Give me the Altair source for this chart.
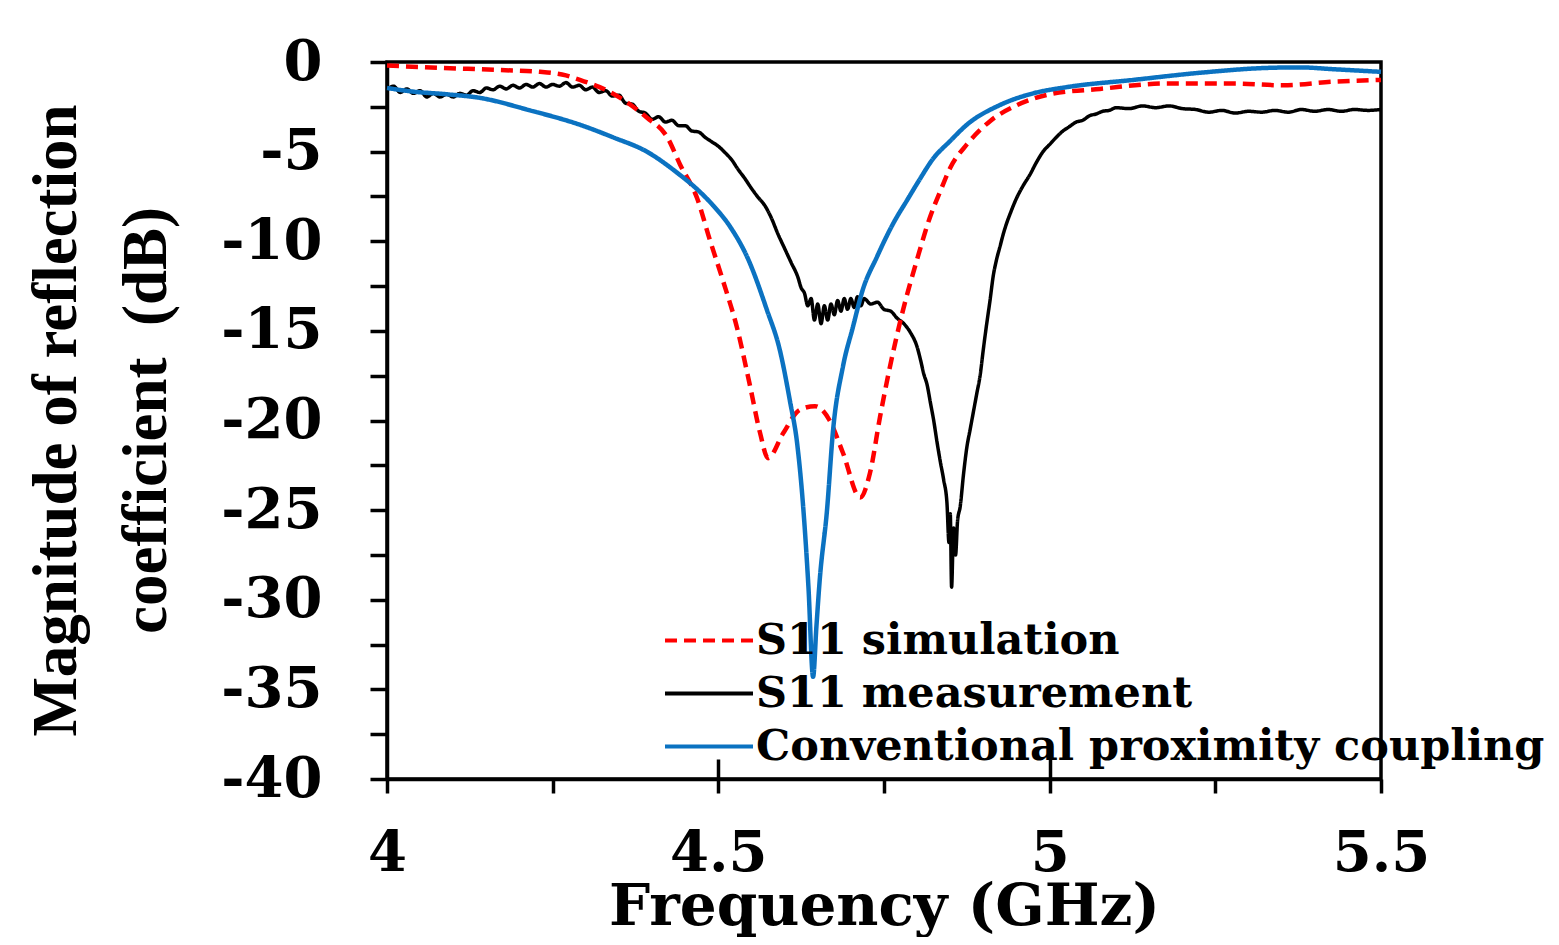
import altair as alt
import pandas as pd

series = ["S11 simulation", "S11 measurement", "Conventional proximity coupling"]
colors = ["#ff0000", "#000000", "#0b72c1"]

sim_f = [4.000, 4.085, 4.170, 4.231, 4.270, 4.291, 4.321, 4.352, 4.392, 4.423, 4.442,
         4.468, 4.487, 4.507, 4.528, 4.548, 4.563, 4.575, 4.598, 4.623, 4.646, 4.668,
         4.688, 4.714, 4.729, 4.744, 4.759, 4.779, 4.800, 4.819, 4.835, 4.850, 4.875,
         4.910, 4.951, 5.000, 5.076, 5.177, 5.277, 5.352, 5.427, 5.500]
sim_db = [-0.20, -0.33, -0.45, -0.55, -0.75, -1.00, -1.40, -2.00, -3.10, -4.20, -5.70,
          -7.60, -9.90, -12.2, -14.8, -18.1, -20.7, -22.1, -20.7, -19.4, -19.2, -20.0,
          -21.8, -24.3, -22.9, -19.8, -17.0, -13.8, -11.0, -8.7, -7.2, -5.9, -4.6,
          -3.3, -2.4, -1.8, -1.5, -1.2, -1.2, -1.3, -1.1, -1.0]

meas_f = [4.000, 4.010, 4.020, 4.030, 4.040, 4.050, 4.060, 4.070, 4.080, 4.090,
          4.100, 4.110, 4.120, 4.130, 4.140, 4.150, 4.160, 4.170, 4.180, 4.190,
          4.200, 4.210, 4.220, 4.230, 4.240, 4.250, 4.260, 4.270, 4.280, 4.290,
          4.300, 4.310, 4.320, 4.330, 4.340, 4.350, 4.360, 4.370, 4.380, 4.390,
          4.400, 4.410, 4.420, 4.430, 4.440, 4.450, 4.460, 4.470, 4.480, 4.490,
          4.500, 4.510, 4.520, 4.530, 4.540, 4.550, 4.560, 4.570, 4.580, 4.590,
          4.600, 4.610, 4.620, 4.625, 4.630, 4.635, 4.640, 4.645, 4.650, 4.655,
          4.660, 4.665, 4.670, 4.675, 4.680, 4.685, 4.690, 4.695, 4.700, 4.705,
          4.710, 4.715, 4.720, 4.730, 4.740, 4.750, 4.760, 4.770, 4.780, 4.790,
          4.800, 4.805, 4.810, 4.815, 4.820, 4.825, 4.830, 4.835, 4.840, 4.845,
          4.848, 4.850, 4.852, 4.855, 4.858, 4.861, 4.865, 4.870, 4.875, 4.880,
          4.885, 4.890, 4.895, 4.900, 4.905, 4.910, 4.915, 4.920, 4.925, 4.930,
          4.935, 4.940, 4.950, 4.960, 4.970, 4.980, 4.990, 5.000, 5.010, 5.020,
          5.030, 5.040, 5.050, 5.060, 5.070, 5.080, 5.090, 5.100, 5.120, 5.140,
          5.160, 5.180, 5.200, 5.220, 5.240, 5.260, 5.280, 5.300, 5.320, 5.340,
          5.360, 5.380, 5.400, 5.420, 5.440, 5.460, 5.480, 5.500]
meas_db = [-1.55, -1.35, -1.70, -1.50, -1.75, -1.60, -1.95, -1.75, -1.95, -1.80,
           -1.95, -1.75, -1.85, -1.60, -1.70, -1.45, -1.55, -1.35, -1.50, -1.30,
           -1.45, -1.25, -1.40, -1.20, -1.40, -1.25, -1.35, -1.15, -1.40, -1.30,
           -1.55, -1.40, -1.70, -1.60, -1.90, -1.85, -2.30, -2.35, -2.75, -2.85,
           -3.20, -3.05, -3.35, -3.25, -3.55, -3.55, -3.85, -3.90, -4.20, -4.45,
           -4.70, -5.05, -5.45, -6.00, -6.50, -7.05, -7.55, -8.00, -8.70, -9.60,
           -10.4, -11.2, -12.0, -12.6, -12.9, -13.6, -13.2, -14.4, -13.5, -14.6,
           -13.6, -14.4, -13.5, -14.1, -13.3, -13.9, -13.2, -13.8, -13.2, -13.7,
           -13.1, -13.6, -13.2, -13.5, -13.4, -13.8, -13.9, -14.3, -14.6, -15.1,
           -15.9, -16.6, -17.4, -18.0, -19.0, -20.0, -21.2, -22.3, -23.3, -24.6,
           -26.8, -25.2, -29.3, -26.0, -27.5, -25.6, -24.8, -23.0, -21.5, -20.5,
           -19.5, -18.5, -17.5, -16.0, -14.6, -13.3, -11.9, -11.0, -10.3, -9.6,
           -9.0, -8.5, -7.6, -6.9, -6.3, -5.6, -5.0, -4.6, -4.2, -3.85,
           -3.60, -3.35, -3.25, -3.00, -2.90, -2.75, -2.70, -2.55, -2.60, -2.45,
           -2.55, -2.45, -2.60, -2.65, -2.80, -2.70, -2.85, -2.75, -2.80, -2.70,
           -2.80, -2.65, -2.75, -2.65, -2.75, -2.65, -2.70, -2.65]

conv_f = [4.000, 4.039, 4.090, 4.140, 4.216, 4.291, 4.341, 4.392, 4.442, 4.468,
          4.492, 4.518, 4.545, 4.573, 4.593, 4.608, 4.619, 4.628, 4.636, 4.643,
          4.648, 4.653, 4.664, 4.673, 4.688, 4.703, 4.718, 4.739, 4.764, 4.785,
          4.803, 4.824, 4.850, 4.875, 4.925, 4.975, 5.026, 5.126, 5.227, 5.328,
          5.378, 5.427, 5.500]
conv_db = [-1.45, -1.65, -1.80, -2.00, -2.70, -3.50, -4.20, -5.00, -6.30, -7.10,
           -8.00, -9.20, -11.0, -13.8, -16.1, -18.9, -21.3, -24.8, -29.3, -34.3,
           -31.5, -28.9, -25.0, -20.6, -17.0, -14.8, -12.7, -10.9, -9.0, -7.7,
           -6.6, -5.4, -4.4, -3.5, -2.4, -1.75, -1.4, -1.0, -0.6, -0.33,
           -0.3, -0.4, -0.55]

x_ticks = [4.0, 4.25, 4.5, 4.75, 5.0, 5.25, 5.5]
x_major_inner = [4.5, 5.0]
y_ticks = [0, -2.5, -5, -7.5, -10, -12.5, -15, -17.5, -20, -22.5, -25,
           -27.5, -30, -32.5, -35, -37.5, -40]

rows = []
for name, fs, ds in [(series[1], meas_f, meas_db), (series[0], sim_f, sim_db),
                     (series[2], conv_f, conv_db)]:
    for i, (f, d) in enumerate(zip(fs, ds)):
        rows.append({"series": name, "f": f, "db": d, "i": i})
df = pd.DataFrame(rows)

xscale = alt.Scale(domain=[4, 5.5], nice=False, zero=False)
yscale = alt.Scale(domain=[-40, 0], nice=False, zero=False)

legend = alt.Legend(
    title=None, orient="none", legendX=276, legendY=552,
    symbolType="stroke", symbolSize=7744, symbolStrokeWidth=4,
    labelFont="DejaVu Serif", labelFontSize=43, labelFontWeight="bold",
    labelColor="black", labelLimit=2000, clipHeight=53, padding=0,
    rowPadding=0, labelOffset=1, symbolOffset=0,
)

x_enc = alt.X("f:Q", scale=xscale, axis=alt.Axis(
    values=x_ticks,
    labelExpr="((datum.value * 2) % 1 == 0) ? '' + datum.value : ''",
    tickSize=14, tickWidth=3.5, tickColor="black",
    domainWidth=3.5, domainColor="black", grid=False,
    labelFont="DejaVu Serif", labelFontSize=56, labelFontWeight="bold",
    labelColor="black", labelPadding=77, labelBaseline="alphabetic",
    labelFlush=False, labelOverlap=False,
    title="Frequency (GHz)", titleFont="DejaVu Serif", titleFontSize=58,
    titleFontWeight="bold", titleColor="black", titleBaseline="alphabetic",
    titleX=497, titleY=145, titleAlign="center"))

y_enc = alt.Y("db:Q", scale=yscale, axis=alt.Axis(
    values=y_ticks,
    labelExpr="(datum.value % 5 == 0) ? '' + datum.value : ''",
    tickSize=17, tickWidth=3.5, tickColor="black",
    domainWidth=3.5, domainColor="black", grid=False,
    labelFont="DejaVu Serif", labelFontSize=56, labelFontWeight="bold",
    labelColor="black", labelPadding=48, labelFlush=False, labelOverlap=False,
    title=["Magnitude of reflection", "coefficient\u00a0\u00a0(dB)"],
    titleFont="Liberation Serif", titleFontSize=63, titleFontWeight="bold",
    titleColor="black", titleLineHeight=90, titleBaseline="alphabetic",
    titleAngle=270, titleAlign="center", titleX=-312, titleY=358))

color_enc = alt.Color("series:N", scale=alt.Scale(domain=series, range=colors), legend=legend)
dash_enc = alt.StrokeDash("series:N",
                          scale=alt.Scale(domain=series, range=[[12, 7], [1, 0], [1, 0]]),
                          legend=legend)

base = alt.Chart(df)
layer_meas = base.transform_filter(alt.datum.series == series[1]).mark_line(
    interpolate="monotone", strokeWidth=3.5).encode(
    x=x_enc, y=y_enc, color=color_enc, strokeDash=dash_enc, order="i:Q")
layer_sim = base.transform_filter(alt.datum.series == series[0]).mark_line(
    interpolate="monotone", strokeWidth=4.5).encode(
    x=x_enc, y=y_enc, color=color_enc, strokeDash=dash_enc, order="i:Q")
layer_conv = base.transform_filter(alt.datum.series == series[2]).mark_line(
    interpolate="monotone", strokeWidth=4.5).encode(
    x=x_enc, y=y_enc, color=color_enc, strokeDash=dash_enc, order="i:Q")

curves = alt.layer(layer_meas, layer_sim, layer_conv)

ticks_up = alt.Chart(pd.DataFrame({"f": x_major_inner})).mark_point(opacity=0).encode(
    x=alt.X("f:Q", scale=xscale, axis=alt.Axis(
        orient="top", offset=-717, values=x_major_inner, labels=False,
        domain=False, grid=False, tickSize=20, tickWidth=3.5, tickColor="black",
        title=None)),
)

chart = alt.layer(curves, ticks_up).resolve_axis(x="independent").properties(
    width=994, height=717,
    autosize=alt.AutoSizeParams(type="none"),
    padding={"left": 379, "top": 54, "right": 170, "bottom": 158},
    background="white",
).configure_view(stroke="black", strokeWidth=3.5)

chart.save("out.html", embed_options={"renderer": "svg", "actions": False})
